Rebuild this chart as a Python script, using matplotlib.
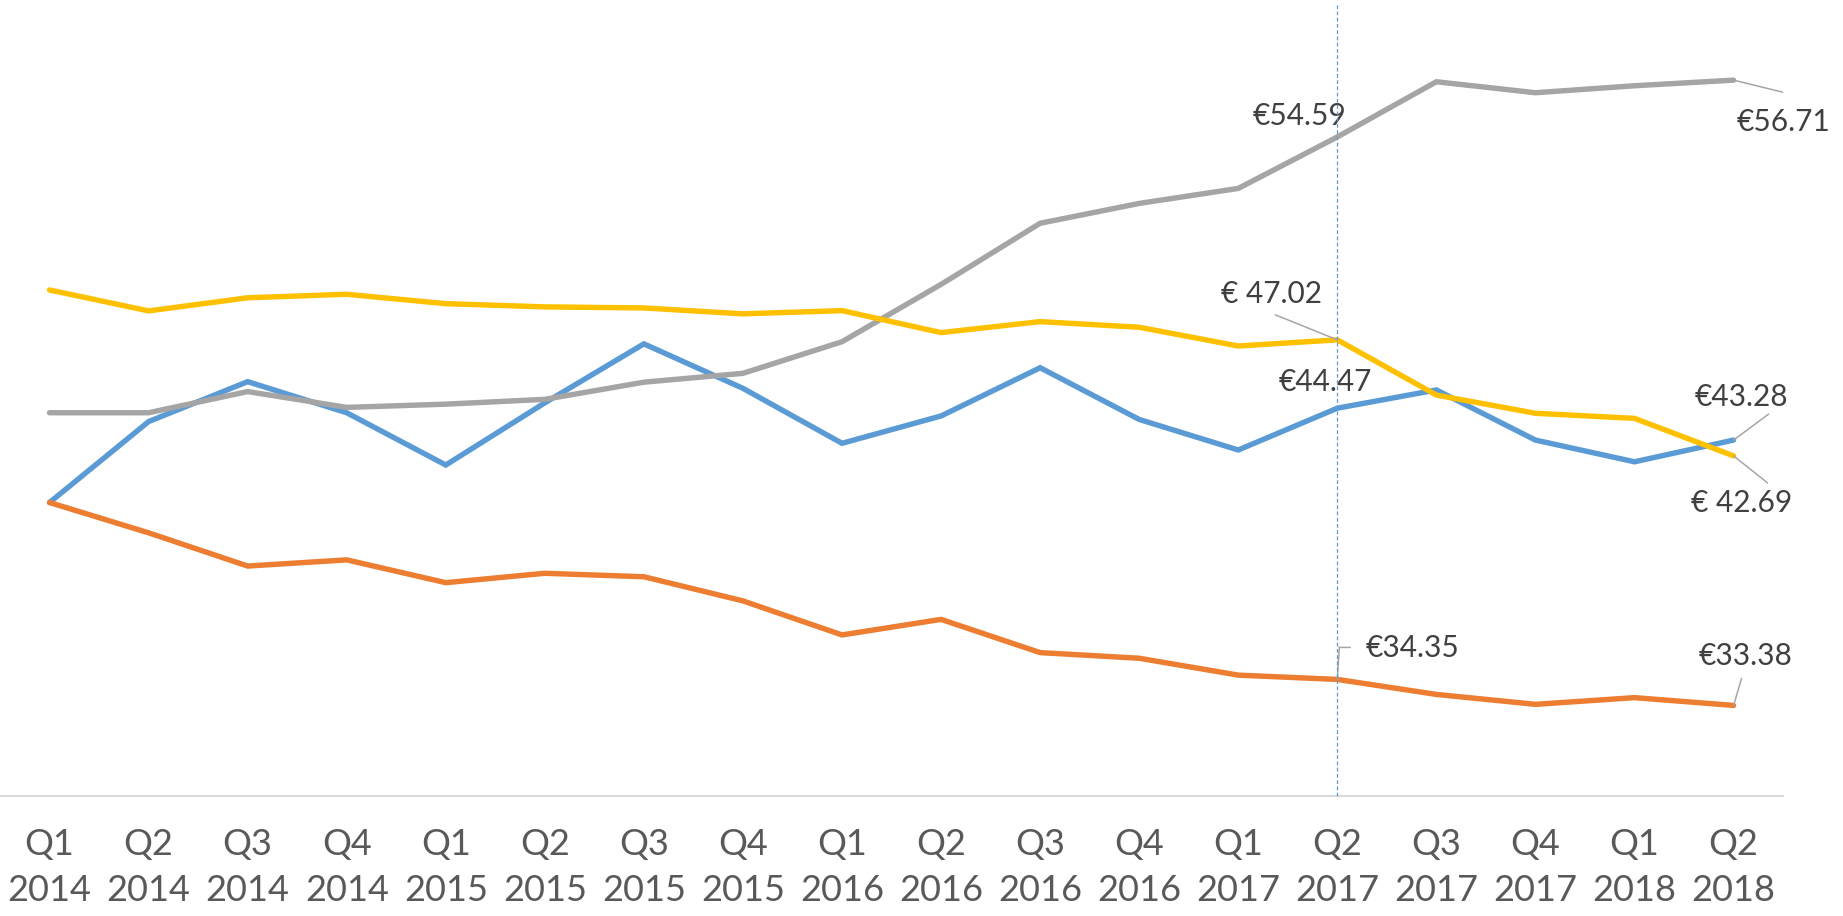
import matplotlib
matplotlib.use("Agg")
from matplotlib import pyplot as plt
from matplotlib.transforms import offset_copy

# quarters on the category axis
kvartalid = ["Q1\n2014", "Q2\n2014", "Q3\n2014", "Q4\n2014",
             "Q1\n2015", "Q2\n2015", "Q3\n2015", "Q4\n2015",
             "Q1\n2016", "Q2\n2016", "Q3\n2016", "Q4\n2016",
             "Q1\n2017", "Q2\n2017", "Q3\n2017", "Q4\n2017",
             "Q1\n2018", "Q2\n2018"]

# values (EUR)
sinine = [40.95, 43.97, 45.46, 44.30, 42.35, 44.67, 46.87, 45.21, 43.16,
          44.18, 45.98, 44.05, 42.91, 44.47, 45.15, 43.28, 42.47, 43.28]
oranz = [40.95, 39.82, 38.58, 38.81, 37.96, 38.31, 38.18, 37.28, 36.01,
         36.59, 35.35, 35.14, 34.51, 34.35, 33.79, 33.42, 33.67, 33.38]
hall = [44.30, 44.30, 45.09, 44.50, 44.62, 44.80, 45.44, 45.77, 46.95,
        49.09, 51.37, 52.11, 52.67, 54.59, 56.65, 56.24, 56.50, 56.71]
kollane = [48.88, 48.10, 48.59, 48.72, 48.37, 48.25, 48.21, 47.99, 48.11,
           47.29, 47.70, 47.49, 46.79, 47.02, 44.96, 44.28, 44.09, 42.69]

# labelled points: (series, index, text)
sildid = [("hall", 13, "€54.59"), ("hall", 17, "€56.71"),
          ("kollane", 13, "€ 47.02"), ("sinine", 13, "€44.47"),
          ("sinine", 17, "€43.28"), ("kollane", 17, "€ 42.69"),
          ("oranz", 13, "€34.35"), ("oranz", 17, "€33.38")]

plt.rcParams['font.family'] = ['Lato', 'DejaVu Sans']

fig = plt.figure(figsize=(18.43, 9.16), dpi=100)
ax = fig.add_axes([0, 0.131, 0.9675, 0.869])

x = list(range(len(kvartalid)))
andmed = {"sinine": sinine, "oranz": oranz, "hall": hall, "kollane": kollane}
varvid = {"sinine": "#5B9BD5", "oranz": "#ED7D31", "hall": "#A5A5A5", "kollane": "#FFC000"}
for nimi in ["sinine", "oranz", "hall", "kollane"]:
    ax.plot(x, andmed[nimi], color=varvid[nimi], lw=3.9, solid_capstyle="round",
            solid_joinstyle="miter")

# vertical dashed marker at Q2 2017
ax.vlines(13, 30, 59.5, color="#5B9BD5", lw=0.9, linestyles=(0, (3, 2)), zorder=5)

# label offsets in pixels: text centre, then leader path points
nihked = {
    ("hall", 13): ((-38, 21), []),
    ("hall", 17): ((50, -42), [(0, 0), (49, -12)]),
    ("kollane", 13): ((-66, 46), [(0, 0), (-62, 25)]),
    ("sinine", 13): ((-12, 26), []),
    ("sinine", 17): ((8, 43), [(0, 0), (35, 26)]),
    ("kollane", 17): ((8, -47), [(0, 0), (34, -27)]),
    ("oranz", 13): ((75, 31), [(0, 0), (2, 32), (13, 32)]),
    ("oranz", 17): ((12, 49), [(0, 0), (8, 27)]),
}
for nimi, i, tekst in sildid:
    y = andmed[nimi][i]
    (tx, ty), tee = nihked[(nimi, i)]
    for a, b in zip(tee[:-1], tee[1:]):
        ta = offset_copy(ax.transData, fig=fig, x=a[0], y=a[1], units="dots")
        tb = offset_copy(ax.transData, fig=fig, x=b[0], y=b[1], units="dots")
        ax.annotate("", xy=(i, y), xycoords=ta, xytext=(i, y), textcoords=tb,
                    arrowprops=dict(arrowstyle="-", color="#A6A6A6", lw=1.1,
                                    shrinkA=0, shrinkB=0))
    ax.annotate(tekst, xy=(i, y), xytext=(tx, ty), textcoords="offset pixels",
                ha="center", va="center", fontsize=21.5, color="#404040")

ax.set_xlim(-0.5, 17.5)
ax.set_ylim(30, 59.7)
ax.set_xticks(x)
ax.set_xticklabels(kvartalid, fontsize=26, color="#595959", linespacing=1.5)
ax.tick_params(axis="x", length=0, pad=23)
ax.set_yticks([])
for s in ["top", "right", "left"]:
    ax.spines[s].set_visible(False)
ax.spines["bottom"].set_color("#D9D9D9")
ax.spines["bottom"].set_linewidth(1.5)

fig.savefig("out.png", dpi=100)
